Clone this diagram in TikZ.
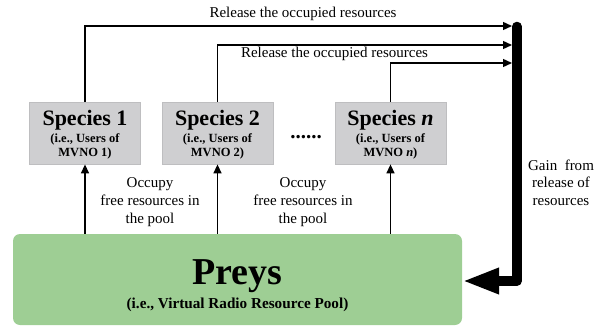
\documentclass[tikz,border=0pt]{standalone}
\usepackage{fontspec}
\setmainfont{Liberation Serif}
\usetikzlibrary{arrows.meta}
\definecolor{boxgray}{RGB}{207,207,209}
\definecolor{boxedge}{RGB}{190,190,192}
\definecolor{poolgreen}{RGB}{158,206,148}
\begin{document}
\begin{tikzpicture}[x=1pt,y=-1pt,
  species/.style={draw=boxedge, line width=0.8pt, fill=boxgray, minimum width=111pt, minimum height=62pt, inner sep=0pt},
  pool/.style={fill=poolgreen, rounded corners=7pt, minimum width=449pt, minimum height=91pt, inner sep=0pt},
  sptitle/.style={font=\fontsize{22}{24}\selectfont\bfseries, anchor=base, inner sep=0pt},
  spsub/.style={font=\fontsize{12.5}{14.5}\selectfont\bfseries, anchor=base, inner sep=0pt, align=center},
  lbl/.style={font=\fontsize{15}{18}\selectfont, anchor=base, inner sep=0pt, align=center},
  flow/.style={line width=1.4pt, -{Triangle[length=9pt,width=8pt]}},
]
\useasboundingbox (0,0) rectangle (602,326);

% species boxes
\node[species] (s1) at (85,133) {};
\node[species] (s2) at (217.5,133) {};
\node[species] (sn) at (390.5,133) {};
\node[sptitle] (s1t) at (85,125) {Species 1};
\node[spsub] (s1s) at (85,157) {(i.e., Users of\\MVNO 1)};
\node[sptitle] (s2t) at (217.5,125) {Species 2};
\node[spsub] (s2s) at (217.5,157) {(i.e., Users of\\MVNO 2)};
\node[sptitle] (snt) at (390.5,125) {Species \textit{n}};
\node[spsub] (sns) at (390.5,157) {(i.e., Users of\\MVNO \textit{n})};
\node[font=\fontsize{21}{21}\selectfont\bfseries, anchor=base, inner sep=0pt] (dots) at (306,139) {......};

% pool
\node[pool] (preys) at (237.5,279.5) {};
\node[font=\fontsize{38}{40}\selectfont\bfseries, anchor=base, inner sep=0pt] (pt) at (237.5,284) {Preys};
\node[font=\fontsize{15.2}{17}\selectfont\bfseries, anchor=base, inner sep=0pt] (ps) at (237.5,308) {(i.e., Virtual Radio Resource Pool)};

% gain bar
\coordinate (bartop) at (517,26.5);
\coordinate (barbot) at (517,281);
\draw[line width=9.5pt, line cap=round, line join=round, -{Triangle[length=37pt,width=24pt]}]
  (bartop) -- (barbot) -- (preys.east |- barbot);

% release arrows
\coordinate (r1) at (512,26);
\coordinate (r2) at (512,45);
\coordinate (r3) at (512,63);
\draw[flow] (s1.north) |- (r1);
\draw[flow] (s2.north) |- (r2);
\draw[flow] (sn.north) |- (r3);

% occupy arrows
\draw[flow] (preys.north -| s1) -- (s1.south);
\draw[flow] (preys.north -| s2) -- (s2.south);
\draw[flow] (preys.north -| sn) -- (sn.south);

% labels
\node[lbl] (rel1) at (303,18) {Release the occupied resources};
\node[lbl] (rel2) at (334.5,58) {Release the occupied resources};
\node[lbl] (occ1) at (150,223) {Occupy\\free resources in\\the pool};
\node[lbl] (occ2) at (303,223) {Occupy\\free resources in\\the pool};
\node[lbl, font=\fontsize{15}{17.5}\selectfont] (gain) at (561,205) {Gain\ \ from\\release of\\resources};
\end{tikzpicture}
\end{document}
